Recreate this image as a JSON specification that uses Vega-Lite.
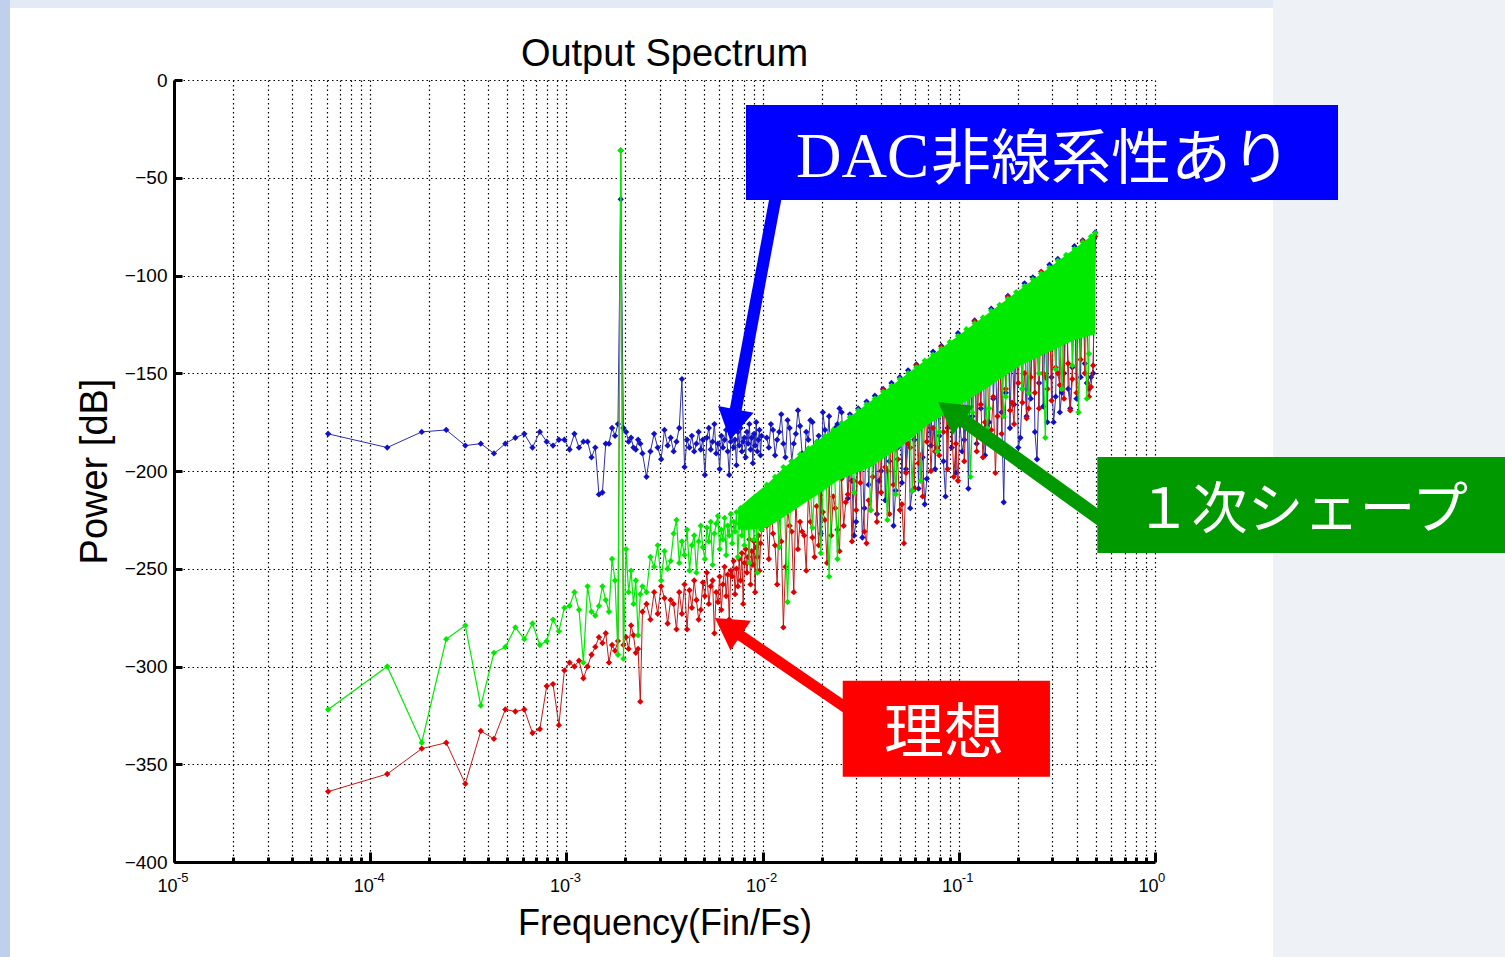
{
"$schema": "https://vega.github.io/schema/vega-lite/v6.json",
"width": 981, "height": 782,
"autosize": {"type": "none"},
"padding": {"left": 174, "top": 80, "right": 350, "bottom": 95},
"background": "#ffffff",
"config": {
 "view": {"stroke": null},
 "axis": {"domainColor": "#000000", "domainWidth": 3, "tickColor": "#000000", "tickWidth": 3, "grid": true, "gridColor": "#000000", "gridDash": [1.5, 3], "gridWidth": 1.2, "gridOpacity": 1, "labelColor": "#000000", "labelFont": "Liberation Sans", "titleFont": "Liberation Sans", "titleFontWeight": "normal", "titleColor": "#000000"}
},
"datasets": {
"blue": [
{"f":6.104e-5,"p":-181},{"f":1.221e-4,"p":-188},{"f":1.831e-4,"p":-180},{"f":2.441e-4,"p":-179},{"f":3.052e-4,"p":-187},{"f":3.662e-4,"p":-186},{"f":4.272e-4,"p":-191},{"f":4.883e-4,"p":-186},{"f":5.493e-4,"p":-183},{"f":6.104e-4,"p":-181},{"f":6.714e-4,"p":-188},{"f":7.324e-4,"p":-180},{"f":7.935e-4,"p":-185},{"f":8.545e-4,"p":-187},{"f":9.155e-4,"p":-184},{"f":9.766e-4,"p":-184},{"f":1.0376e-3,"p":-189},{"f":1.0986e-3,"p":-181},{"f":1.1597e-3,"p":-188},{"f":1.2207e-3,"p":-185},{"f":1.2817e-3,"p":-185},{"f":1.3428e-3,"p":-193},{"f":1.4038e-3,"p":-188},{"f":1.4648e-3,"p":-212},{"f":1.5259e-3,"p":-211},{"f":1.5869e-3,"p":-186},{"f":1.6479e-3,"p":-186},{"f":1.709e-3,"p":-178},{"f":1.77e-3,"p":-182},{"f":1.8311e-3,"p":-176},{"f":1.8921e-3,"p":-61},{"f":1.9531e-3,"p":-178},{"f":2.0142e-3,"p":-180},{"f":2.0752e-3,"p":-185},{"f":2.1362e-3,"p":-183},{"f":2.1973e-3,"p":-188},{"f":2.2583e-3,"p":-189},{"f":2.3193e-3,"p":-184},{"f":2.3804e-3,"p":-186},{"f":2.4414e-3,"p":-191},
{"f":0.00256,"p":-203},{"f":0.00268,"p":-190},{"f":0.0028,"p":-181},{"f":0.00292,"p":-188},{"f":0.00304,"p":-194},{"f":0.00316,"p":-179},{"f":0.00328,"p":-187},{"f":0.0034,"p":-183},{"f":0.00352,"p":-190},{"f":0.00364,"p":-185},{"f":0.00376,"p":-178},{"f":0.00388,"p":-153},{"f":0.004,"p":-198},{"f":0.00412,"p":-184},{"f":0.00424,"p":-188},{"f":0.00436,"p":-182},{"f":0.00448,"p":-190},{"f":0.0046,"p":-186},{"f":0.00472,"p":-180},{"f":0.00484,"p":-189},{"f":0.00496,"p":-184},{"f":0.00508,"p":-202},{"f":0.0052,"p":-183},{"f":0.00532,"p":-178},{"f":0.00544,"p":-189},{"f":0.00556,"p":-185},{"f":0.00568,"p":-176},{"f":0.0058,"p":-191},{"f":0.00592,"p":-186},{"f":0.00604,"p":-199},{"f":0.00616,"p":-182},{"f":0.00628,"p":-188},{"f":0.0064,"p":-184},{"f":0.00652,"p":-179},{"f":0.00664,"p":-190},{"f":0.00676,"p":-202},{"f":0.00688,"p":-185},{"f":0.007,"p":-181},{"f":0.00712,"p":-188},{"f":0.00724,"p":-184},{"f":0.00736,"p":-197},{"f":0.00748,"p":-180},{"f":0.0076,"p":-187},{"f":0.00772,"p":-178},{"f":0.00784,"p":-190},{"f":0.00796,"p":-185},{"f":0.00808,"p":-183},{"f":0.0082,"p":-193},{"f":0.00832,"p":-180},{"f":0.00844,"p":-186},{"f":0.00856,"p":-176},{"f":0.00868,"p":-189},{"f":0.0088,"p":-183},{"f":0.00892,"p":-196},{"f":0.00904,"p":-181},{"f":0.00916,"p":-187},{"f":0.00928,"p":-175},{"f":0.0094,"p":-190},{"f":0.00952,"p":-184},{"f":0.00964,"p":-179},{"f":0.00976,"p":-192},{"f":0.00988,"p":-182},
{"f":0.0105,"p":-183},{"f":0.011025,"p":-176},{"f":0.011576,"p":-192},{"f":0.012155,"p":-180},{"f":0.012763,"p":-186},{"f":0.013401,"p":-174},{"f":0.014071,"p":-195},{"f":0.014775,"p":-181},{"f":0.015513,"p":-177},{"f":0.016289,"p":-201},{"f":0.017103,"p":-184},{"f":0.017959,"p":-175},{"f":0.018856,"p":-189},{"f":0.019799,"p":-232},{"f":0.020789,"p":-179},{"f":0.021829,"p":-172},{"f":0.02292,"p":-188},{"f":0.024066,"p":-176},{"f":0.02527,"p":-170},{"f":0.026533,"p":-185},{"f":0.02786,"p":-171},{"f":0.029253,"p":-233},{"f":0.030715,"p":-168},{"f":0.032251,"p":-234},{"f":0.033864,"p":-164.5},{"f":0.035557,"p":-180},{"f":0.037335,"p":-161.5},{"f":0.039201,"p":-205},{"f":0.041161,"p":-158},{"f":0.04322,"p":-175},{"f":0.045381,"p":-155},{"f":0.04765,"p":-210},{"f":0.050032,"p":-152},{"f":0.052534,"p":-170},{"f":0.055161,"p":-148.5},{"f":0.057919,"p":-210},{"f":0.060815,"p":-145.5},{"f":0.063855,"p":-165},{"f":0.067048,"p":-217},{"f":0.070401,"p":-160},{"f":0.073921,"p":-139},{"f":0.077617,"p":-158},{"f":0.081497,"p":-136},{"f":0.085572,"p":-213},{"f":0.089851,"p":-140},{"f":0.094343,"p":-151},{"f":0.09906,"p":-129.5},{"f":0.10401,"p":-190},{"f":0.10921,"p":-135},{"f":0.11467,"p":-146},{"f":0.12041,"p":-123},{"f":0.12643,"p":-143},{"f":0.13275,"p":-130},{"f":0.13939,"p":-177},{"f":0.14636,"p":-117},{"f":0.15368,"p":-138},{"f":0.16136,"p":-121},{"f":0.16943,"p":-216},{"f":0.1779,"p":-110.5},{"f":0.18679,"p":-132},{"f":0.19613,"p":-115},{"f":0.20594,"p":-183},{"f":0.21624,"p":-104},{"f":0.22705,"p":-126},{"f":0.2384,"p":-101},{"f":0.25032,"p":-194},{"f":0.26284,"p":-110},{"f":0.27598,"p":-120},{"f":0.28978,"p":-94.5},{"f":0.30427,"p":-175},{"f":0.31948,"p":-91.5},{"f":0.33546,"p":-160},{"f":0.35223,"p":-100},{"f":0.36984,"p":-168},{"f":0.38833,"p":-85},{"f":0.40775,"p":-112},{"f":0.42814,"p":-82},{"f":0.44954,"p":-155},{"f":0.47202,"p":-152},{"f":0.49562,"p":-78},
{"f":0.010759,"p":-188},{"f":0.011297,"p":-179},{"f":0.011862,"p":-184},{"f":0.012455,"p":-171},{"f":0.013078,"p":-193},{"f":0.013732,"p":-178},{"f":0.014419,"p":-186},{"f":0.01514,"p":-169},{"f":0.015896,"p":-191},{"f":0.016691,"p":-180},{"f":0.017525,"p":-174},{"f":0.018402,"p":-196},{"f":0.019322,"p":-182},{"f":0.020288,"p":-170},{"f":0.021302,"p":-187},{"f":0.022368,"p":-203},{"f":0.023486,"p":-178},{"f":0.024661,"p":-168},{"f":0.025894,"p":-190},{"f":0.027189,"p":-214},{"f":0.028548,"p":-205},{"f":0.029975,"p":-226},{"f":0.031474,"p":-198},{"f":0.033047,"p":-219},{"f":0.0347,"p":-207},{"f":0.036435,"p":-190},{"f":0.038257,"p":-222},{"f":0.04017,"p":-200},{"f":0.042178,"p":-215},{"f":0.044287,"p":-195},{"f":0.046502,"p":-228},{"f":0.048827,"p":-188},{"f":0.051268,"p":-206},{"f":0.053832,"p":-199},{"f":0.056523,"p":-219},{"f":0.059349,"p":-184},{"f":0.062317,"p":-209},{"f":0.065433,"p":-193},{"f":0.068704,"p":-204},{"f":0.072139,"p":-187},{"f":0.075746,"p":-199},
{"f":0.079534,"p":-182},{"f":0.08351,"p":-195},{"f":0.087685,"p":-178},{"f":0.09207,"p":-188},{"f":0.096673,"p":-201},{"f":0.10151,"p":-176},{"f":0.10658,"p":-184},{"f":0.11191,"p":-209},{"f":0.1175,"p":-172},{"f":0.12338,"p":-186},{"f":0.12955,"p":-168},{"f":0.13603,"p":-192},{"f":0.14283,"p":-175},{"f":0.14997,"p":-163},{"f":0.15748,"p":-185},{"f":0.16534,"p":-170},{"f":0.17361,"p":-160},{"f":0.18229,"p":-178},{"f":0.1914,"p":-166},{"f":0.20097,"p":-188},{"f":0.21103,"p":-158},{"f":0.22158,"p":-172},{"f":0.23266,"p":-163},{"f":0.24429,"p":-180},{"f":0.2565,"p":-155},{"f":0.26933,"p":-167},{"f":0.2828,"p":-175},{"f":0.29694,"p":-152},{"f":0.31178,"p":-162},{"f":0.32737,"p":-170},{"f":0.34374,"p":-150},{"f":0.36093,"p":-158},{"f":0.37897,"p":-147},{"f":0.39792,"p":-163},{"f":0.41782,"p":-152},{"f":0.43871,"p":-145},{"f":0.46064,"p":-158},{"f":0.48368,"p":-150}
],
"red": [
{"f":6.104e-5,"p":-364},{"f":1.221e-4,"p":-355},{"f":1.831e-4,"p":-342},{"f":2.441e-4,"p":-339},{"f":3.052e-4,"p":-360},{"f":3.662e-4,"p":-333},{"f":4.272e-4,"p":-337},{"f":4.883e-4,"p":-322},{"f":5.493e-4,"p":-323},{"f":6.104e-4,"p":-322},{"f":6.714e-4,"p":-334},{"f":7.324e-4,"p":-332},{"f":7.935e-4,"p":-310},{"f":8.545e-4,"p":-309},{"f":9.155e-4,"p":-330},{"f":9.766e-4,"p":-302},{"f":1.0376e-3,"p":-298},{"f":1.0986e-3,"p":-300},{"f":1.1597e-3,"p":-297},{"f":1.2207e-3,"p":-306},{"f":1.2817e-3,"p":-300},{"f":1.3428e-3,"p":-294},{"f":1.4038e-3,"p":-290},{"f":1.4648e-3,"p":-285},{"f":1.5259e-3,"p":-288},{"f":1.5869e-3,"p":-283},{"f":1.6479e-3,"p":-298},{"f":1.709e-3,"p":-289},{"f":1.77e-3,"p":-292},{"f":1.8311e-3,"p":-287},{"f":1.8921e-3,"p":-36},{"f":1.9531e-3,"p":-289},{"f":2.0142e-3,"p":-285},{"f":2.0752e-3,"p":-291},{"f":2.1362e-3,"p":-279},{"f":2.1973e-3,"p":-284},{"f":2.2583e-3,"p":-293},{"f":2.3193e-3,"p":-291},{"f":2.3804e-3,"p":-318},{"f":2.4414e-3,"p":-272},
{"f":0.00256,"p":-268},{"f":0.00268,"p":-276},{"f":0.0028,"p":-262},{"f":0.00292,"p":-273},{"f":0.00304,"p":-259},{"f":0.00316,"p":-265},{"f":0.00328,"p":-278},{"f":0.0034,"p":-266},{"f":0.00352,"p":-268},{"f":0.00364,"p":-281},{"f":0.00376,"p":-262},{"f":0.00388,"p":-273},{"f":0.004,"p":-258},{"f":0.00412,"p":-281},{"f":0.00424,"p":-261},{"f":0.00436,"p":-270},{"f":0.00448,"p":-256},{"f":0.0046,"p":-266},{"f":0.00472,"p":-276},{"f":0.00484,"p":-271},{"f":0.00496,"p":-257},{"f":0.00508,"p":-264},{"f":0.0052,"p":-252},{"f":0.00532,"p":-268},{"f":0.00544,"p":-259},{"f":0.00556,"p":-256},{"f":0.00568,"p":-283},{"f":0.0058,"p":-262},{"f":0.00592,"p":-267},{"f":0.00604,"p":-254},{"f":0.00616,"p":-271},{"f":0.00628,"p":-258},{"f":0.0064,"p":-249},{"f":0.00652,"p":-264},{"f":0.00664,"p":-253},{"f":0.00676,"p":-276},{"f":0.00688,"p":-251},{"f":0.007,"p":-254},{"f":0.00712,"p":-246},{"f":0.00724,"p":-263},{"f":0.00736,"p":-250},{"f":0.00748,"p":-259},{"f":0.0076,"p":-245},{"f":0.00772,"p":-256},{"f":0.00784,"p":-242},{"f":0.00796,"p":-268},{"f":0.00808,"p":-247},{"f":0.0082,"p":-240},{"f":0.00832,"p":-252},{"f":0.00844,"p":-244},{"f":0.00856,"p":-235},{"f":0.00868,"p":-258},{"f":0.0088,"p":-241},{"f":0.00892,"p":-248},{"f":0.00904,"p":-236},{"f":0.00916,"p":-262},{"f":0.00928,"p":-239},{"f":0.0094,"p":-244},{"f":0.00952,"p":-233},{"f":0.00964,"p":-251},{"f":0.00976,"p":-237},{"f":0.00988,"p":-230},
{"f":0.0105,"p":-228},{"f":0.011025,"p":-215},{"f":0.011576,"p":-238},{"f":0.012155,"p":-221},{"f":0.012763,"p":-280},{"f":0.013401,"p":-219},{"f":0.014071,"p":-231},{"f":0.014775,"p":-214},{"f":0.015513,"p":-226},{"f":0.016289,"p":-233},{"f":0.017103,"p":-212},{"f":0.017959,"p":-234},{"f":0.018856,"p":-218},{"f":0.019799,"p":-209},{"f":0.020789,"p":-225},{"f":0.021829,"p":-206},{"f":0.02292,"p":-213},{"f":0.024066,"p":-230},{"f":0.02527,"p":-204},{"f":0.026533,"p":-216},{"f":0.02786,"p":-199},{"f":0.029253,"p":-205},{"f":0.030715,"p":-185},{"f":0.032251,"p":-190},{"f":0.033864,"p":-237},{"f":0.035557,"p":-220},{"f":0.037335,"p":-190},{"f":0.039201,"p":-180},{"f":0.041161,"p":-158.5},{"f":0.04322,"p":-200},{"f":0.045381,"p":-175},{"f":0.04765,"p":-185},{"f":0.050032,"p":-220},{"f":0.052534,"p":-237},{"f":0.055161,"p":-186},{"f":0.057919,"p":-170},{"f":0.060815,"p":-146},{"f":0.063855,"p":-192},{"f":0.067048,"p":-165},{"f":0.070401,"p":-170},{"f":0.073921,"p":-178},{"f":0.077617,"p":-188},{"f":0.081497,"p":-136.5},{"f":0.085572,"p":-160},{"f":0.089851,"p":-155},{"f":0.094343,"p":-203},{"f":0.09906,"p":-205},{"f":0.10401,"p":-150},{"f":0.10921,"p":-170},{"f":0.11467,"p":-145},{"f":0.12041,"p":-123.5},{"f":0.12643,"p":-150},{"f":0.13275,"p":-193},{"f":0.13939,"p":-140},{"f":0.14636,"p":-179},{"f":0.15368,"p":-201},{"f":0.16136,"p":-130},{"f":0.16943,"p":-140},{"f":0.1779,"p":-111},{"f":0.18679,"p":-165},{"f":0.19613,"p":-130},{"f":0.20594,"p":-128},{"f":0.21624,"p":-150},{"f":0.22705,"p":-168},{"f":0.2384,"p":-115},{"f":0.25032,"p":-125},{"f":0.26284,"p":-98},{"f":0.27598,"p":-152},{"f":0.28978,"p":-115},{"f":0.30427,"p":-120},{"f":0.31948,"p":-150},{"f":0.33546,"p":-112},{"f":0.35223,"p":-105},{"f":0.36984,"p":-169},{"f":0.38833,"p":-100},{"f":0.40775,"p":-105},{"f":0.42814,"p":-82.5},{"f":0.44954,"p":-115},{"f":0.47202,"p":-157},{"f":0.49562,"p":-80},
{"f":0.010759,"p":-245},{"f":0.011297,"p":-232},{"f":0.011862,"p":-258},{"f":0.012455,"p":-236},{"f":0.013078,"p":-249},{"f":0.013732,"p":-228},{"f":0.014419,"p":-262},{"f":0.01514,"p":-240},{"f":0.015896,"p":-231},{"f":0.016691,"p":-251},{"f":0.017525,"p":-226},{"f":0.018402,"p":-244},{"f":0.019322,"p":-238},{"f":0.020288,"p":-221},{"f":0.021302,"p":-247},{"f":0.022368,"p":-233},{"f":0.023486,"p":-219},{"f":0.024661,"p":-241},{"f":0.025894,"p":-228},{"f":0.027189,"p":-212},{"f":0.028548,"p":-236},{"f":0.029975,"p":-220},{"f":0.031474,"p":-206},{"f":0.033047,"p":-231},{"f":0.0347,"p":-215},{"f":0.036435,"p":-203},{"f":0.038257,"p":-226},{"f":0.04017,"p":-211},{"f":0.042178,"p":-198},{"f":0.044287,"p":-222},{"f":0.046502,"p":-207},{"f":0.048827,"p":-194},{"f":0.051268,"p":-217},{"f":0.053832,"p":-201},{"f":0.056523,"p":-188},{"f":0.059349,"p":-209},{"f":0.062317,"p":-196},{"f":0.065433,"p":-213},{"f":0.068704,"p":-185},{"f":0.072139,"p":-200},{"f":0.075746,"p":-190},
{"f":0.079534,"p":-192},{"f":0.08351,"p":-180},{"f":0.087685,"p":-199},{"f":0.09207,"p":-176},{"f":0.096673,"p":-186},{"f":0.10151,"p":-172},{"f":0.10658,"p":-195},{"f":0.11191,"p":-168},{"f":0.1175,"p":-180},{"f":0.12338,"p":-190},{"f":0.12955,"p":-166},{"f":0.13603,"p":-175},{"f":0.14283,"p":-184},{"f":0.14997,"p":-162},{"f":0.15748,"p":-172},{"f":0.16534,"p":-181},{"f":0.17361,"p":-158},{"f":0.18229,"p":-169},{"f":0.1914,"p":-176},{"f":0.20097,"p":-155},{"f":0.21103,"p":-165},{"f":0.22158,"p":-173},{"f":0.23266,"p":-152},{"f":0.24429,"p":-160},{"f":0.2565,"p":-168},{"f":0.26933,"p":-150},{"f":0.2828,"p":-158},{"f":0.29694,"p":-164},{"f":0.31178,"p":-147},{"f":0.32737,"p":-156},{"f":0.34374,"p":-163},{"f":0.36093,"p":-145},{"f":0.37897,"p":-153},{"f":0.39792,"p":-160},{"f":0.41782,"p":-143},{"f":0.43871,"p":-150},{"f":0.46064,"p":-162},{"f":0.48368,"p":-146}
],
"green": [
{"f":6.104e-5,"p":-322},{"f":1.221e-4,"p":-300},{"f":1.831e-4,"p":-339},{"f":2.441e-4,"p":-286},{"f":3.052e-4,"p":-279},{"f":3.662e-4,"p":-320},{"f":4.272e-4,"p":-293},{"f":4.883e-4,"p":-290},{"f":5.493e-4,"p":-280},{"f":6.104e-4,"p":-286},{"f":6.714e-4,"p":-278},{"f":7.324e-4,"p":-289},{"f":7.935e-4,"p":-287},{"f":8.545e-4,"p":-276},{"f":9.155e-4,"p":-282},{"f":9.766e-4,"p":-270},{"f":1.0376e-3,"p":-269},{"f":1.0986e-3,"p":-262},{"f":1.1597e-3,"p":-271},{"f":1.2207e-3,"p":-298},{"f":1.2817e-3,"p":-259},{"f":1.3428e-3,"p":-272},{"f":1.4038e-3,"p":-274},{"f":1.4648e-3,"p":-269},{"f":1.5259e-3,"p":-259},{"f":1.5869e-3,"p":-266},{"f":1.6479e-3,"p":-272},{"f":1.709e-3,"p":-245},{"f":1.77e-3,"p":-256},{"f":1.8311e-3,"p":-294},{"f":1.8921e-3,"p":-36},{"f":1.9531e-3,"p":-296},{"f":2.0142e-3,"p":-240},{"f":2.0752e-3,"p":-262},{"f":2.1362e-3,"p":-251},{"f":2.1973e-3,"p":-268},{"f":2.2583e-3,"p":-256},{"f":2.3193e-3,"p":-284},{"f":2.3804e-3,"p":-263},{"f":2.4414e-3,"p":-259},
{"f":0.00256,"p":-262},{"f":0.00268,"p":-244},{"f":0.0028,"p":-249},{"f":0.00292,"p":-238},{"f":0.00304,"p":-256},{"f":0.00316,"p":-241},{"f":0.00328,"p":-250},{"f":0.0034,"p":-246},{"f":0.00352,"p":-232},{"f":0.00364,"p":-225},{"f":0.00376,"p":-247},{"f":0.00388,"p":-236},{"f":0.004,"p":-243},{"f":0.00412,"p":-230},{"f":0.00424,"p":-251},{"f":0.00436,"p":-238},{"f":0.00448,"p":-233},{"f":0.0046,"p":-252},{"f":0.00472,"p":-236},{"f":0.00484,"p":-228},{"f":0.00496,"p":-239},{"f":0.00508,"p":-245},{"f":0.0052,"p":-229},{"f":0.00532,"p":-236},{"f":0.00544,"p":-226},{"f":0.00556,"p":-248},{"f":0.00568,"p":-232},{"f":0.0058,"p":-227},{"f":0.00592,"p":-223},{"f":0.00604,"p":-240},{"f":0.00616,"p":-230},{"f":0.00628,"p":-235},{"f":0.0064,"p":-224},{"f":0.00652,"p":-243},{"f":0.00664,"p":-228},{"f":0.00676,"p":-233},{"f":0.00688,"p":-222},{"f":0.007,"p":-237},{"f":0.00712,"p":-226},{"f":0.00724,"p":-231},{"f":0.00736,"p":-221},{"f":0.00748,"p":-244},{"f":0.0076,"p":-227},{"f":0.00772,"p":-219},{"f":0.00784,"p":-233},{"f":0.00796,"p":-224},{"f":0.00808,"p":-238},{"f":0.0082,"p":-218},{"f":0.00832,"p":-229},{"f":0.00844,"p":-222},{"f":0.00856,"p":-247},{"f":0.00868,"p":-217},{"f":0.0088,"p":-228},{"f":0.00892,"p":-220},{"f":0.00904,"p":-235},{"f":0.00916,"p":-215},{"f":0.00928,"p":-226},{"f":0.0094,"p":-252},{"f":0.00952,"p":-213},{"f":0.00964,"p":-224},{"f":0.00976,"p":-216},{"f":0.00988,"p":-230},
{"f":0.0105,"p":-207},{"f":0.011025,"p":-213},{"f":0.011576,"p":-203},{"f":0.012155,"p":-239},{"f":0.012763,"p":-198},{"f":0.013401,"p":-267},{"f":0.014071,"p":-195},{"f":0.014775,"p":-203},{"f":0.015513,"p":-191.5},{"f":0.016289,"p":-200},{"f":0.017103,"p":-188.5},{"f":0.017959,"p":-229},{"f":0.018856,"p":-185},{"f":0.019799,"p":-242},{"f":0.020789,"p":-182},{"f":0.021829,"p":-254},{"f":0.02292,"p":-179},{"f":0.024066,"p":-245},{"f":0.02527,"p":-175.5},{"f":0.026533,"p":-186},{"f":0.02786,"p":-172.5},{"f":0.029253,"p":-211},{"f":0.030715,"p":-169},{"f":0.032251,"p":-182},{"f":0.033864,"p":-166},{"f":0.035557,"p":-220},{"f":0.037335,"p":-163},{"f":0.039201,"p":-177},{"f":0.041161,"p":-159.5},{"f":0.04322,"p":-225},{"f":0.045381,"p":-156.5},{"f":0.04765,"p":-212},{"f":0.050032,"p":-153},{"f":0.052534,"p":-168},{"f":0.055161,"p":-150},{"f":0.057919,"p":-210},{"f":0.060815,"p":-147},{"f":0.063855,"p":-205},{"f":0.067048,"p":-143.5},{"f":0.070401,"p":-159},{"f":0.073921,"p":-140.5},{"f":0.077617,"p":-190},{"f":0.081497,"p":-137.5},{"f":0.085572,"p":-153},{"f":0.089851,"p":-134},{"f":0.094343,"p":-150},{"f":0.09906,"p":-131},{"f":0.10401,"p":-147},{"f":0.10921,"p":-127.5},{"f":0.11467,"p":-203},{"f":0.12041,"p":-124.5},{"f":0.12643,"p":-141},{"f":0.13275,"p":-121.5},{"f":0.13939,"p":-178},{"f":0.14636,"p":-118},{"f":0.15368,"p":-135},{"f":0.16136,"p":-115},{"f":0.16943,"p":-172},{"f":0.1779,"p":-112},{"f":0.18679,"p":-129},{"f":0.19613,"p":-108.5},{"f":0.20594,"p":-126},{"f":0.21624,"p":-105.5},{"f":0.22705,"p":-160},{"f":0.2384,"p":-102},{"f":0.25032,"p":-121},{"f":0.26284,"p":-99},{"f":0.27598,"p":-183},{"f":0.28978,"p":-96},{"f":0.30427,"p":-116},{"f":0.31948,"p":-92.5},{"f":0.33546,"p":-158},{"f":0.35223,"p":-89.5},{"f":0.36984,"p":-111},{"f":0.38833,"p":-86.5},{"f":0.40775,"p":-170},{"f":0.42814,"p":-83},{"f":0.44954,"p":-163},{"f":0.47202,"p":-80},{"f":0.49562,"p":-78.3},
{"f":0.079534,"p":-180},{"f":0.096673,"p":-175},{"f":0.1175,"p":-170},{"f":0.14283,"p":-168},{"f":0.17361,"p":-162},{"f":0.21103,"p":-158},{"f":0.2565,"p":-150},{"f":0.31178,"p":-148},{"f":0.37897,"p":-146},{"f":0.46064,"p":-140}
],
"band": [
{"f":0.0075,"p":-230,"p2":-219},{"f":0.0088,"p":-230,"p2":-213},{"f":0.0105,"p":-229,"p2":-207},{"f":0.012155,"p":-225,"p2":-200.5},{"f":0.015513,"p":-218,"p2":-191.4},{"f":0.019799,"p":-211,"p2":-183.4},{"f":0.024066,"p":-205,"p2":-177.1},{"f":0.035557,"p":-198,"p2":-164.3},{"f":0.050032,"p":-188,"p2":-153.2},{"f":0.070401,"p":-176,"p2":-142},{"f":0.09906,"p":-167,"p2":-130.9},{"f":0.14636,"p":-156,"p2":-118.1},{"f":0.20594,"p":-146,"p2":-107},{"f":0.28978,"p":-139,"p2":-95.9},{"f":0.38833,"p":-133,"p2":-86.3},{"f":0.49562,"p":-130,"p2":-78.3}
],
"exps": [
{"f":0.00001,"p":-400,"t":"-5"},{"f":0.0001,"p":-400,"t":"-4"},{"f":0.001,"p":-400,"t":"-3"},{"f":0.01,"p":-400,"t":"-2"},{"f":0.1,"p":-400,"t":"-1"},{"f":1,"p":-400,"t":"0"}
]
},
"layer": [
{"data": {"values": [{"f": 3.995, "f2": 1000, "p": -700, "p2": 100}]}, "mark": {"type": "rect", "color": "#eef2f6"},
 "encoding": {"x": {"field": "f", "type": "quantitative"}, "x2": {"field": "f2"}, "y": {"field": "p", "type": "quantitative"}, "y2": {"field": "p2"}}},
{"data": {"values": [{"f": 1e-8, "f2": 1.459e-6, "p": -700, "p2": 100}]}, "mark": {"type": "rect", "color": "#bfcfec"},
 "encoding": {"x": {"field": "f", "type": "quantitative"}, "x2": {"field": "f2"}, "y": {"field": "p", "type": "quantitative"}, "y2": {"field": "p2"}}},
{"data": {"values": [{"f": 1.459e-6, "f2": 3.995, "p": 36.8, "p2": 100}]}, "mark": {"type": "rect", "color": "#e3eaf6"},
 "encoding": {"x": {"field": "f", "type": "quantitative"}, "x2": {"field": "f2"}, "y": {"field": "p", "type": "quantitative"}, "y2": {"field": "p2"}}},
{"data": {"name": "blue"}, "mark": {"type": "line", "color": "#2e2ea8", "strokeWidth": 1},
 "encoding": {
  "x": {"field": "f", "type": "quantitative", "title": "Frequency(Fin/Fs)",
   "scale": {"type": "log", "domain": [0.00001, 1], "nice": false},
   "axis": {"values": [0.00001,0.00002,0.00003,0.00004,0.00005,0.00006,0.00007,0.00008,0.00009,0.0001,0.0002,0.0003,0.0004,0.0005,0.0006,0.0007,0.0008,0.0009,0.001,0.002,0.003,0.004,0.005,0.006,0.007,0.008,0.009,0.01,0.02,0.03,0.04,0.05,0.06,0.07,0.08,0.09,0.1,0.2,0.3,0.4,0.5,0.6,0.7,0.8,0.9,1],
    "labelExpr": "indexof([0.00001,0.0001,0.001,0.01,0.1,1], datum.value) >= 0 ? '10' : ''",
    "labelFontSize": 18, "labelPadding": 25, "labelOffset": -7, "labelFlush": false, "labelOverlap": false,
    "tickSize": {"condition": {"test": "indexof([0.00001,0.0001,0.001,0.01,0.1,1], datum.value) >= 0", "value": -10}, "value": -5},
    "titleFontSize": 36, "titlePadding": 6}},
  "y": {"field": "p", "type": "quantitative", "title": "Power [dB]",
   "scale": {"domain": [-400, 0], "nice": false, "zero": false},
   "axis": {"values": [-400,-350,-300,-250,-200,-150,-100,-50,0], "labelFontSize": 19, "labelPadding": 15, "labelFlush": false, "tickSize": -8, "titleFontSize": 38, "titlePadding": 10}}
 }},
{"data": {"name": "exps"}, "mark": {"type": "text", "font": "Liberation Sans", "fontSize": 13, "align": "left", "baseline": "top", "dx": 3, "dy": 10, "color": "#000000"},
 "encoding": {"x": {"field": "f", "type": "quantitative"}, "y": {"field": "p", "type": "quantitative"}, "text": {"field": "t"}}},
{"data": {"name": "blue"}, "mark": {"type": "point", "filled": true, "shape": "diamond", "size": 40, "color": "#1010c8", "opacity": 1},
 "encoding": {"x": {"field": "f", "type": "quantitative"}, "y": {"field": "p", "type": "quantitative"}}},
{"data": {"name": "red"}, "mark": {"type": "line", "color": "#c41818", "strokeWidth": 1},
 "encoding": {"x": {"field": "f", "type": "quantitative"}, "y": {"field": "p", "type": "quantitative"}}},
{"data": {"name": "red"}, "mark": {"type": "point", "filled": true, "shape": "diamond", "size": 40, "color": "#e00000", "opacity": 1},
 "encoding": {"x": {"field": "f", "type": "quantitative"}, "y": {"field": "p", "type": "quantitative"}}},
{"data": {"name": "band"}, "mark": {"type": "area", "color": "#00ea00", "opacity": 1},
 "encoding": {"x": {"field": "f", "type": "quantitative"}, "y": {"field": "p", "type": "quantitative"}, "y2": {"field": "p2"}}},
{"data": {"name": "green"}, "mark": {"type": "line", "color": "#00ea00", "strokeWidth": 1.2},
 "encoding": {"x": {"field": "f", "type": "quantitative"}, "y": {"field": "p", "type": "quantitative"}}},
{"data": {"name": "green"}, "mark": {"type": "point", "filled": true, "shape": "diamond", "size": 40, "color": "#00ea00", "opacity": 1},
 "encoding": {"x": {"field": "f", "type": "quantitative"}, "y": {"field": "p", "type": "quantitative"}}},
{"data": {"values": [{"f": 0.011838, "p": -56.3, "f2": 0.007057, "p2": -176.3}]}, "mark": {"type": "rule", "color": "#0000ff", "strokeWidth": 12},
 "encoding": {"x": {"field": "f", "type": "quantitative"}, "y": {"field": "p", "type": "quantitative"}, "x2": {"field": "f2"}, "y2": {"field": "p2"}}},
{"data": {"values": [{"f": 0.5896, "p": -228.1, "f2": 0.09089, "p2": -169.4}]}, "mark": {"type": "rule", "color": "#009900", "strokeWidth": 14},
 "encoding": {"x": {"field": "f", "type": "quantitative"}, "y": {"field": "p", "type": "quantitative"}, "x2": {"field": "f2"}, "y2": {"field": "p2"}}},
{"data": {"values": [{"f": 0.02958, "p": -324.3, "f2": 0.006651, "p2": -279.7}]}, "mark": {"type": "rule", "color": "#ff0000", "strokeWidth": 11},
 "encoding": {"x": {"field": "f", "type": "quantitative"}, "y": {"field": "p", "type": "quantitative"}, "x2": {"field": "f2"}, "y2": {"field": "p2"}}},
{"data": {"values": [{"f": 0.008229, "f2": 8.565, "p": -61.38, "p2": -12.79}]}, "mark": {"type": "rect", "color": "#0000ff"},
 "encoding": {"x": {"field": "f", "type": "quantitative"}, "x2": {"field": "f2"}, "y": {"field": "p", "type": "quantitative"}, "y2": {"field": "p2"}}},
{"data": {"values": [{"f": 0.5081, "f2": 100, "p": -241.9, "p2": -192.8}]}, "mark": {"type": "rect", "color": "#009900"},
 "encoding": {"x": {"field": "f", "type": "quantitative"}, "x2": {"field": "f2"}, "y": {"field": "p", "type": "quantitative"}, "y2": {"field": "p2"}}},
{"data": {"values": [{"f": 0.02561, "f2": 0.2915, "p": -356.4, "p2": -307.3}]}, "mark": {"type": "rect", "color": "#ff0000"},
 "encoding": {"x": {"field": "f", "type": "quantitative"}, "x2": {"field": "f2"}, "y": {"field": "p", "type": "quantitative"}, "y2": {"field": "p2"}}},
{"data": {"values": [{"f": 0.007057, "p": -176.3}]}, "mark": {"type": "point", "shape": "triangle-up", "size": 1300, "filled": true, "opacity": 1, "color": "#0000ff", "angle": 190.6},
 "encoding": {"x": {"field": "f", "type": "quantitative"}, "y": {"field": "p", "type": "quantitative"}}},
{"data": {"values": [{"f": 0.09089, "p": -169.4}]}, "mark": {"type": "point", "shape": "triangle-up", "size": 1300, "filled": true, "opacity": 1, "color": "#009900", "angle": 305.8},
 "encoding": {"x": {"field": "f", "type": "quantitative"}, "y": {"field": "p", "type": "quantitative"}}},
{"data": {"values": [{"f": 0.006651, "p": -279.7}]}, "mark": {"type": "point", "shape": "triangle-up", "size": 1300, "filled": true, "opacity": 1, "color": "#ff0000", "angle": 304.5},
 "encoding": {"x": {"field": "f", "type": "quantitative"}, "y": {"field": "p", "type": "quantitative"}}},
{"data": {"values": [{"f": 0.07048, "p": -49.6, "t": "DAC"}]}, "mark": {"type": "text", "font": "Liberation Serif", "fontSize": 63, "align": "right", "baseline": "alphabetic", "color": "#ffffff"},
 "encoding": {"x": {"field": "f", "type": "quantitative"}, "y": {"field": "p", "type": "quantitative"}, "text": {"field": "t"}}},
{"data": {"values": [{"f": 0.07216, "p": -50.6, "t": "非線系性あり"}]}, "mark": {"type": "text", "font": "Noto Sans CJK JP", "fontSize": 60, "align": "left", "baseline": "alphabetic", "color": "#ffffff"},
 "encoding": {"x": {"field": "f", "type": "quantitative"}, "y": {"field": "p", "type": "quantitative"}, "text": {"field": "t"}}},
{"data": {"values": [{"f": 5.6, "p": -229.2, "t": "１次シェープ"}]}, "mark": {"type": "text", "font": "Noto Sans CJK JP", "fontSize": 56, "align": "center", "baseline": "alphabetic", "color": "#ffffff"},
 "encoding": {"x": {"field": "f", "type": "quantitative"}, "y": {"field": "p", "type": "quantitative"}, "text": {"field": "t"}}},
{"data": {"values": [{"f": 0.08406, "p": -344.2, "t": "理想"}]}, "mark": {"type": "text", "font": "Noto Sans CJK JP", "fontSize": 60, "align": "center", "baseline": "alphabetic", "color": "#ffffff"},
 "encoding": {"x": {"field": "f", "type": "quantitative"}, "y": {"field": "p", "type": "quantitative"}, "text": {"field": "t"}}},
{"data": {"values": [{"f": 0.0031623, "p": 7.16, "t": "Output Spectrum"}]}, "mark": {"type": "text", "font": "Liberation Sans", "fontSize": 38, "align": "center", "baseline": "alphabetic", "color": "#000000"},
 "encoding": {"x": {"field": "f", "type": "quantitative"}, "y": {"field": "p", "type": "quantitative"}, "text": {"field": "t"}}}
]
}
